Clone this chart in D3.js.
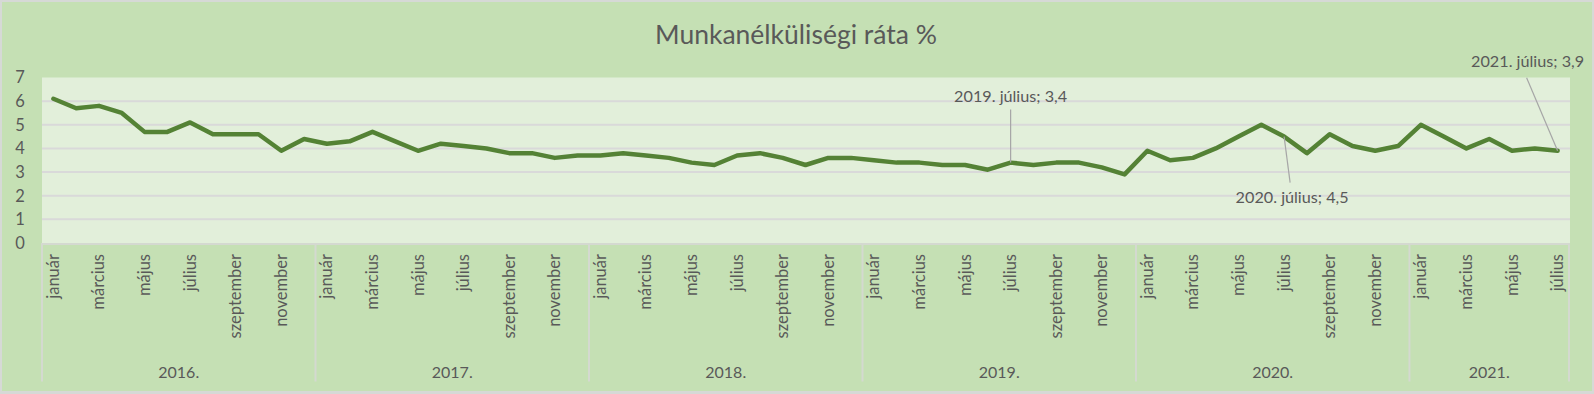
<!DOCTYPE html>
<html>
<head>
	<meta charset="utf-8">
	<title>Munkanélküliségi ráta</title>
	<script src="https://cdn.jsdelivr.net/npm/d3@7"></script>
	<style>
		html, body { margin: 0; padding: 0; background: #d6d9d6; }
		svg { display: block; }
		text { font-family: Lato, "Open Sans", sans-serif; fill: #595959; }
	</style>
</head>
<body>
	<svg></svg>
	<script type="text/javascript">

	// data: monthly unemployment rate, Jan 2016 - Jul 2021
	var years = ["2016.", "2017.", "2018.", "2019.", "2020.", "2021."];
	var monthNames = ["január", "február", "március", "április", "május", "június",
	                  "július", "augusztus", "szeptember", "október", "november", "december"];
	var rate = [
		6.1, 5.7, 5.8, 5.5, 4.7, 4.7, 5.1, 4.6, 4.6, 4.6, 3.9, 4.4,   // 2016
		4.2, 4.3, 4.7, 4.3, 3.9, 4.2, 4.1, 4.0, 3.8, 3.8, 3.6, 3.7,   // 2017
		3.7, 3.8, 3.7, 3.6, 3.4, 3.3, 3.7, 3.8, 3.6, 3.3, 3.6, 3.6,   // 2018
		3.5, 3.4, 3.4, 3.3, 3.3, 3.1, 3.4, 3.3, 3.4, 3.4, 3.2, 2.9,   // 2019
		3.9, 3.5, 3.6, 4.0, 4.5, 5.0, 4.5, 3.8, 4.6, 4.1, 3.9, 4.1,   // 2020
		5.0, 4.5, 4.0, 4.4, 3.9, 4.0, 3.9                             // 2021
	];
	var yTicks = [0, 1, 2, 3, 4, 5, 6, 7];
	var labelled = [42, 54, 66];   // points with data labels

	var W = 1594, H = 394;
	var plot = {left: 42, right: 1570, top: 77.5, bottom: 243};
	var catBottom = 381.5;

	var svg = d3.select("svg").attr("width", W).attr("height", H);

	// chart area
	svg.append("rect")
		.attr("x", 2).attr("y", 2)
		.attr("width", W - 4).attr("height", H - 5)
		.attr("fill", "#c5e0b4");

	svg.append("rect")
		.attr("x", plot.left).attr("y", plot.top)
		.attr("width", plot.right - plot.left).attr("height", plot.bottom - plot.top)
		.attr("fill", "#e2efda");

	var idx = d3.range(rate.length);
	var x = d3.scaleBand().domain(idx).range([plot.left, plot.right - 1]);
	var y = d3.scaleLinear().domain([0, 7]).range([plot.bottom, plot.top]);
	var cx = function(i) { return x(i) + x.bandwidth() / 2; };

	// gridlines
	svg.append("g").selectAll("line")
		.data(yTicks.filter(function(t) { return t > 0 && t < 7; }))
		.enter().append("line")
		.attr("x1", plot.left).attr("x2", plot.right)
		.attr("y1", function(d) { return y(d); })
		.attr("y2", function(d) { return y(d); })
		.attr("stroke", "#d9d9d9")
		.attr("stroke-width", 2);

	// y axis labels
	svg.append("g").selectAll("text")
		.data(yTicks)
		.enter().append("text")
		.attr("x", 20)
		.attr("y", function(d) { return y(d); })
		.attr("dy", "0.36em")
		.attr("text-anchor", "middle")
		.style("font-size", "16.5px")
		.text(function(d) { return d; });

	// category axis (two levels)
	svg.append("line")
		.attr("x1", plot.left).attr("x2", plot.right)
		.attr("y1", plot.bottom + 1).attr("y2", plot.bottom + 1)
		.attr("stroke", "#d4d9d0").attr("stroke-width", 2);

	var yearStarts = d3.range(0, rate.length, 12);
	var bounds = yearStarts.map(function(i) { return x(i); }).concat([plot.right - 1]);

	svg.append("g").selectAll("line")
		.data(bounds)
		.enter().append("line")
		.attr("x1", function(d) { return d; }).attr("x2", function(d) { return d; })
		.attr("y1", plot.bottom).attr("y2", catBottom)
		.attr("stroke", "#d4d9d0").attr("stroke-width", 2);

	svg.append("g").selectAll("text")
		.data(idx.filter(function(i) { return i % 2 === 0; }))
		.enter().append("text")
		.attr("transform", function(i) { return "translate(" + (cx(i) + 5.5) + "," + (plot.bottom + 11) + ") rotate(-90)"; })
		.attr("text-anchor", "end")
		.style("font-size", "16.5px")
		.text(function(i) { return monthNames[i % 12]; });

	svg.append("g").selectAll("text")
		.data(years)
		.enter().append("text")
		.attr("x", function(d, k) { return (bounds[k] + bounds[k + 1]) / 2; })
		.attr("y", 372)
		.attr("dy", "0.35em")
		.attr("text-anchor", "middle")
		.style("font-size", "16px")
		.text(function(d) { return d; });

	// the series
	var line = d3.line()
		.x(function(d, i) { return cx(i); })
		.y(function(d) { return y(d); });

	svg.append("path")
		.datum(rate)
		.attr("d", line)
		.attr("fill", "none")
		.attr("stroke", "#548235")
		.attr("stroke-width", 4.5)
		.attr("stroke-linejoin", "round")
		.attr("stroke-linecap", "round");

	// data labels with leader lines
	var labelPos = {
		42: {tx: 0, ty: -66, lx: 0, ly: -53},
		54: {tx: 8, ty: 61, lx: 6, ly: 46},
		66: {tx: -30, ty: -89, lx: -31, ly: -73}
	};

	labelled.forEach(function(i) {
		var px = cx(i), py = y(rate[i]), p = labelPos[i];
		svg.append("line")
			.attr("x1", px).attr("y1", py)
			.attr("x2", px + p.lx).attr("y2", py + p.ly)
			.attr("stroke", "#a6a6a6").attr("stroke-width", 1.2);
		svg.append("text")
			.attr("x", px + p.tx).attr("y", py + p.ty)
			.attr("dy", "0.35em")
			.attr("text-anchor", "middle")
			.style("font-size", "16.2px")
			.text(years[Math.floor(i / 12)] + " " + monthNames[i % 12] + "; " + String(rate[i]).replace(".", ","));
	});

	// title
	svg.append("text")
		.attr("x", 796).attr("y", 35)
		.attr("dy", "0.35em")
		.attr("text-anchor", "middle")
		.style("font-size", "26.5px")
		.text("Munkanélküliségi ráta %");

    </script>
</body>
</html>
